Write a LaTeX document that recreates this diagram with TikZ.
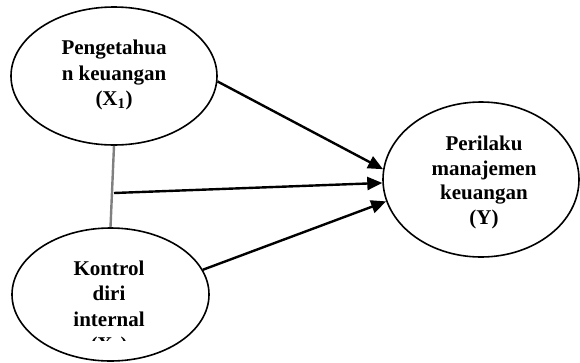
\documentclass[tikz,border=0pt]{standalone}
\usepackage{fontspec}
\setmainfont{Liberation Serif}
\usetikzlibrary{arrows.meta,shapes.geometric}
\begin{document}
\begin{tikzpicture}[x=1pt,y=-1pt,
  var/.style={draw=black,line width=1.6pt,ellipse,inner sep=0pt},
  lbl/.style={align=center,font=\bfseries\fontsize{21}{25.5}\selectfont},
  arr/.style={line width=2.4pt,-{Triangle[length=15pt,width=13pt]}},
  link/.style={draw=gray,line width=2.4pt}]
\useasboundingbox (0,0) rectangle (580,362);
\node[var,minimum width=206pt,minimum height=138pt] (x1) at (114,76) {};
\node[lbl] (t1) at (114,75) {Pengetahua\\n keuangan\\(X\textsubscript{1})};
\node[var,minimum width=197pt,minimum height=133pt] (x2) at (110.5,294.5) {};
\begin{scope}
  \clip (0,0) rectangle (580,340.5);
  \node[lbl] (t2) at (109,308.5) {Kontrol\\diri\\internal\\(X\textsubscript{2})};
\end{scope}
\node[var,minimum width=196pt,minimum height=155pt] (y) at (481,179.5) {};
\node[lbl,font=\bfseries\fontsize{21}{24.4}\selectfont] (ty) at (484,182.5) {Perilaku\\manajemen\\keuangan\\(Y)};
\draw[link] (x1.south) -- (x2.north);
\coordinate (m) at (114,193);
\draw[arr] (x1.-3) -- (y.174);
\draw[arr] (m) -- (y.182);
\draw[arr] (x2.15) -- (y.193);
\end{tikzpicture}
\end{document}
